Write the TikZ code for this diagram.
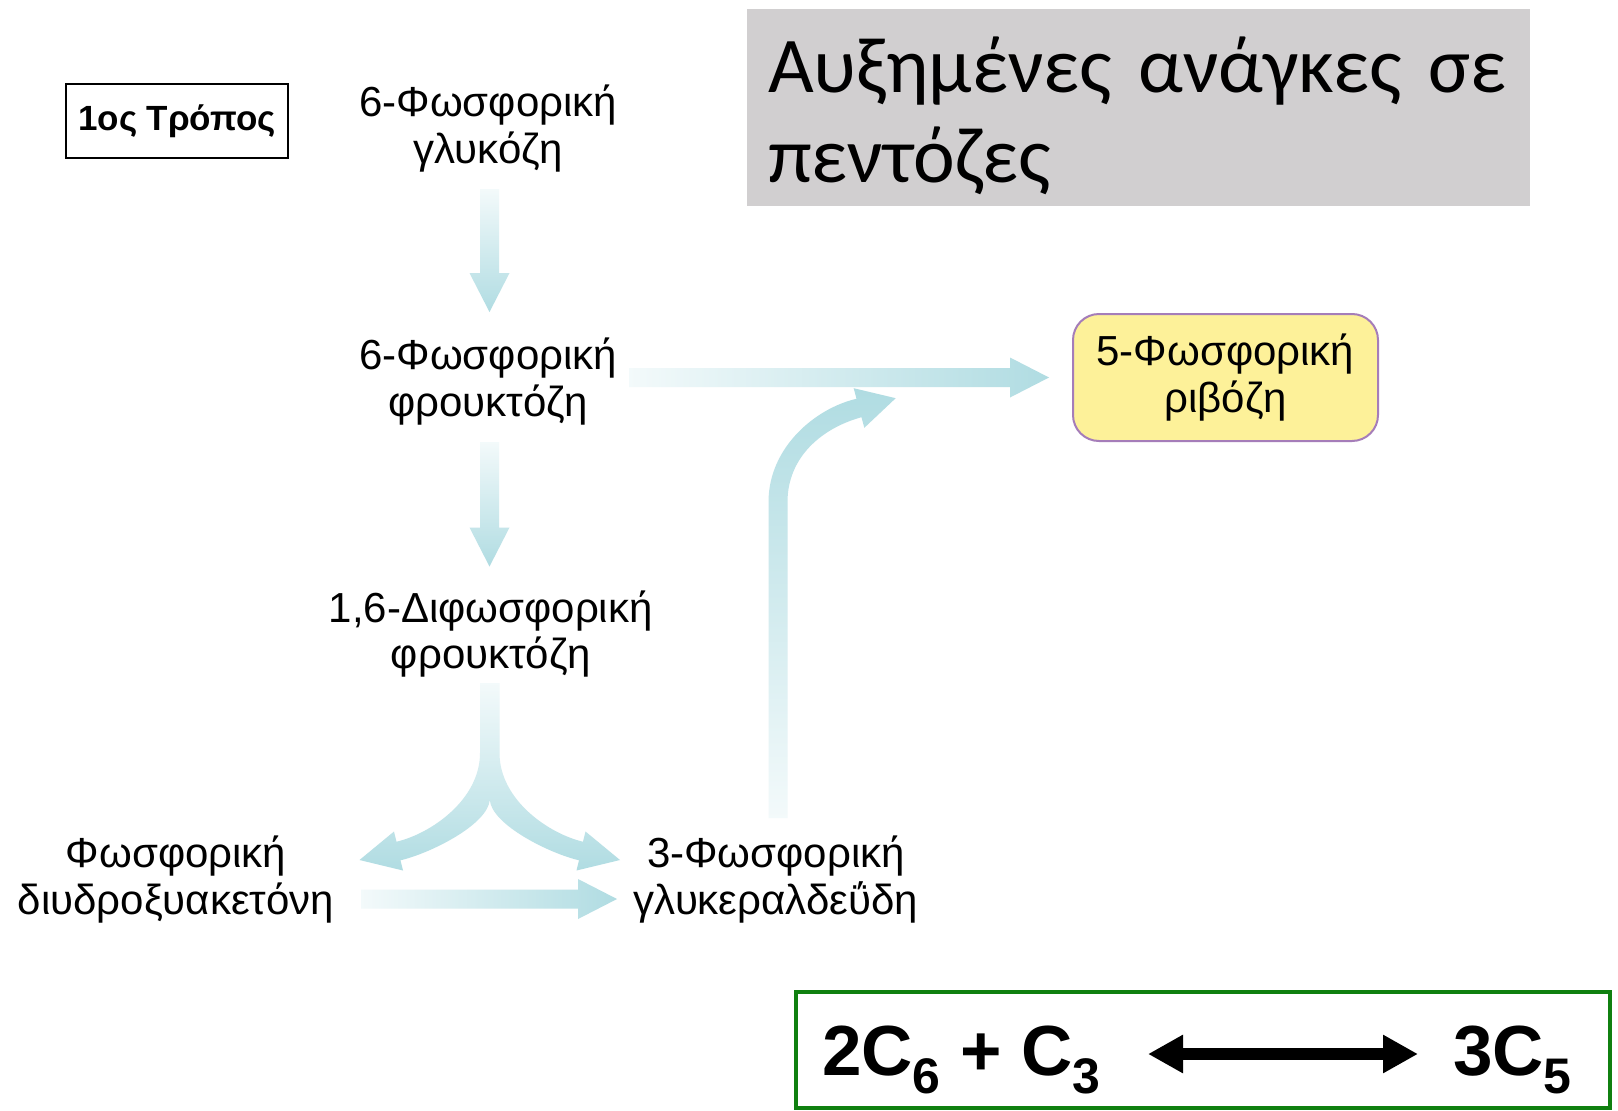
\documentclass[tikz,border=0pt]{standalone}
\usepackage{fontspec}
\setmainfont{Liberation Sans}
\newfontfamily\titlefont{Carlito}
\usetikzlibrary{arrows.meta,calc}
\definecolor{arrowc}{RGB}{176,220,226}
\definecolor{titlegray}{RGB}{209,207,208}
\definecolor{ribfill}{RGB}{253,241,153}
\definecolor{ribdraw}{RGB}{165,125,185}
\definecolor{boxgreen}{RGB}{16,128,16}
\newcommand{\subsc}[1]{\raisebox{-18pt}{\fontsize{50}{50}\selectfont #1}}
\newcommand{\downarr}[2]{%
  \shade[vgrad] ($(#1)+(-9.5,0)$) -- ($(#1)+(9.5,0)$) -- ($(#2)+(9.5,-39)$)
    -- ($(#2)+(20,-39)$) -- (#2) -- ($(#2)+(-20,-39)$) -- ($(#2)+(-9.5,-39)$) -- cycle;}
\newcommand{\rightarr}[2]{%
  \shade[hgrad] ($(#1)+(0,-9.5)$) -- ($(#2)+(-39,-9.5)$) -- ($(#2)+(-39,-20)$)
    -- (#2) -- ($(#2)+(-39,20)$) -- ($(#2)+(-39,9.5)$) -- ($(#1)+(0,9.5)$) -- cycle;}
\begin{document}
\begin{tikzpicture}[x=1pt,y=-1pt,
  lbl/.style={font=\fontsize{42}{46.5}\selectfont, text width=360pt, align=center, anchor=base, inner sep=0pt},
  vgrad/.style={top color=arrowc!15, middle color=arrowc, bottom color=arrowc},
  hgrad/.style={left color=arrowc!15, middle color=arrowc, right color=arrowc},
  upgrad/.style={bottom color=arrowc!15, middle color=arrowc, top color=arrowc},
  dblarrow/.style={line width=11.7pt, {Triangle[length=35pt,width=36pt]}-{Triangle[length=35pt,width=36pt]}},
  formula/.style={anchor=base west, inner sep=0pt, font=\fontsize{71}{71}\selectfont\bfseries}
]
\fill[white] (0,0) rectangle (1618,1111);
\useasboundingbox (0,0) rectangle (1618,1111);

% title
\node[fill=titlegray, anchor=north west, minimum width=783pt, minimum height=197pt, inner sep=0pt] (titlebox) at (747,8.3) {};
\node[anchor=base west, text width=760pt, align=left, inner sep=0pt, font=\titlefont\fontsize{79}{90}\selectfont] (title) at (768,92) {Αυξημένες ανάγκες σε\\πεντόζες};

% way box
\node[draw, line width=2pt, minimum width=222pt, minimum height=74pt, inner sep=0pt, font=\fontsize{35}{35}\selectfont\bfseries] (way) at (177,121) {1ος Τρόπος};

% labels
\node[lbl] (g6p) at (488.1,116.6) {6-Φωσφορική\\γλυκόζη};
\node[lbl] (f6p) at (488.1,369.5) {6-Φωσφορική\\φρουκτόζη};
\node[lbl] (f16bp) at (490.7,622.3) {1,6-Διφωσφορική\\φρουκτόζη};
\node[lbl] (dhap) at (176,867.9) {Φωσφορική\\διυδροξυακετόνη};
\node[lbl] (g3p) at (776,867.9) {3-Φωσφορική\\γλυκεραλδεΰδη};
\node[draw=ribdraw, fill=ribfill, line width=2pt, rounded corners=26pt, minimum width=305pt, minimum height=127pt, align=center, inner sep=0pt, font=\fontsize{42}{46.5}\selectfont] (r5p) at (1225.5,377.5) {5-Φωσφορική\\ριβόζη};

% connector end points
\coordinate (a1s) at (489.5,189);   \coordinate (a1e) at (489.5,312);
\coordinate (a2s) at (489.5,442);   \coordinate (a2e) at (489.5,566.5);
\coordinate (a3s) at (629,377.5);   \coordinate (a3e) at (1049,377.5);
\coordinate (a5s) at (361,899);     \coordinate (a5e) at (617,899);
\coordinate (a4l) at (359.5,860);   \coordinate (a4r) at (620,860);
\coordinate (a6e) at (895.7,398.2);

\downarr{a1s}{a1e}
\downarr{a2s}{a2e}
\rightarr{a3s}{a3e}
\rightarr{a5s}{a5e}

% split arrow
\shade[vgrad]
 (480,683) -- (499.5,683) -- (499.5,753)
 .. controls (499.5,800) and (549,833.8) .. (583,841.7)
 -- (585.5,831.5) -- (a4r) -- (576.5,870.5) -- (579,860.3)
 .. controls (549.8,853.5) and (492,825) .. (489.75,800)
 .. controls (487.5,825) and (429.7,853.5) .. (400.5,860.3)
 -- (403,870.5) -- (a4l) -- (394,831.5) -- (396.5,841.7)
 .. controls (430.5,833.8) and (480,800) .. (480,753) -- cycle;

% curved arrow up to the ribose arrow
\shade[upgrad]
 (768.5,818) -- (768.5,502)
 .. controls (768.5,447) and (816,408) .. (856.5,398.8)
 -- (853.7,388.2) -- (a6e) -- (864.3,427.8) -- (861.5,417.2)
 .. controls (822,428) and (787.5,457) .. (787.5,502) -- (787.5,818) -- cycle;

% formula box
\draw[boxgreen, line width=4pt] (795.5,991.5) rectangle (1610,1107.5);
\node[formula] (lhs) at (822,1075) {2C\subsc{6} + C\subsc{3}};
\node[formula] (rhs) at (1453,1075) {3C\subsc{5}};
\coordinate (dl) at (1148,1054);
\coordinate (dr) at (1418,1054);
\draw[dblarrow] (dl) -- (dr);
\end{tikzpicture}
\end{document}
